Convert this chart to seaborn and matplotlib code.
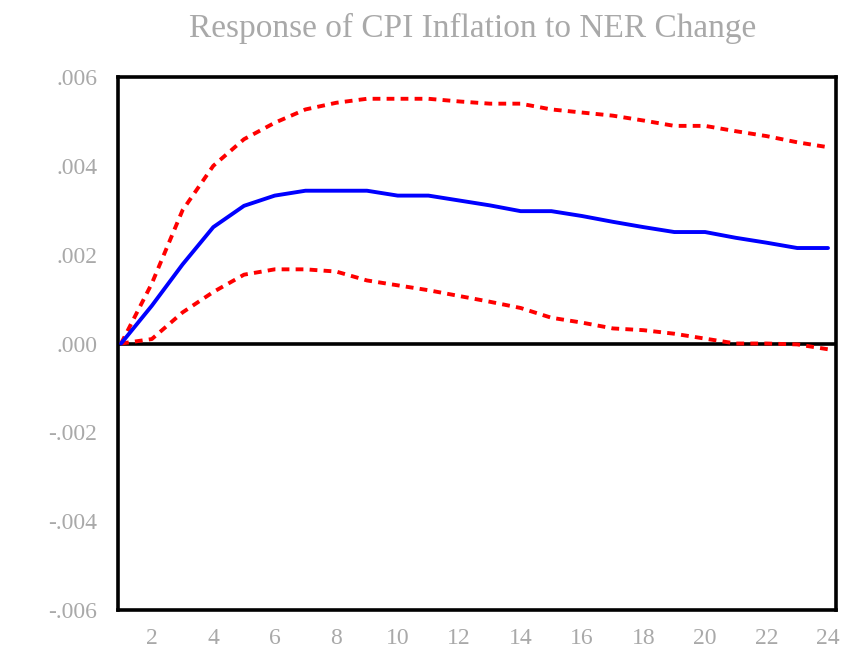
import numpy as np
import pandas as pd
import matplotlib
matplotlib.use("Agg")
import matplotlib.pyplot as plt
import seaborn as sns

# ---------------------------------------------------------------
# Datos: respuesta al impulso (periodos 1..24) con bandas +/- 2 s.e.
# ---------------------------------------------------------------
periodos = list(range(1, 25))
respuesta = [0.0, 0.00085, 0.00178, 0.00262, 0.00310, 0.00333, 0.00344, 0.00344,
             0.00344, 0.00333, 0.00333, 0.00322, 0.00311, 0.00298, 0.00298, 0.00287,
             0.00274, 0.00262, 0.00251, 0.00251, 0.00238, 0.00227, 0.00215, 0.00215]
banda_sup = [0.0, 0.00135, 0.00300, 0.00400, 0.00460, 0.00497, 0.00527, 0.00542,
             0.00551, 0.00551, 0.00551, 0.00545, 0.00540, 0.00540, 0.00527, 0.00520,
             0.00513, 0.00502, 0.00490, 0.00490, 0.00478, 0.00467, 0.00453, 0.00442]
banda_inf = [0.0, 0.00010, 0.00070, 0.00116, 0.00155, 0.00167, 0.00167, 0.00162,
             0.00142, 0.00131, 0.00120, 0.00107, 0.00094, 0.00080, 0.00058, 0.00047,
             0.00034, 0.00030, 0.00022, 0.00011, 0.00000, 0.00000, -0.00002, -0.00013]

y_ticks = [0.006, 0.004, 0.002, 0.0, -0.002, -0.004, -0.006]
y_labels = [".006", ".004", ".002", ".000", "-.002", "-.004", "-.006"]
x_labels = [str(p) if p % 2 == 0 else "" for p in periodos]

df = pd.DataFrame({"periodo": periodos, "resp": respuesta,
                   "sup": banda_sup, "inf": banda_inf})

sns.set_theme(style="white")
plt.rcParams['font.family'] = ['Liberation Serif', 'DejaVu Serif']

fig = plt.figure(figsize=(8.44, 6.56), dpi=100)
ax = fig.add_axes([0.1398, 0.0701, 0.8507, 0.8125])

ax.axhline(0, color="black", linewidth=2.6, zorder=1)
sns.lineplot(data=df, x="periodo", y="sup", ax=ax, color="#ff0000",
             linewidth=2.8, linestyle=(0, (2.0, 1.6)), zorder=3)
sns.lineplot(data=df, x="periodo", y="inf", ax=ax, color="#ff0000",
             linewidth=2.8, linestyle=(0, (2.0, 1.6)), zorder=3)
sns.lineplot(data=df, x="periodo", y="resp", ax=ax, color="#0000ff",
             linewidth=2.8, zorder=4)

ax.set_xlim(0.9, 24.26)
ax.set_ylim(-0.006, 0.006)
ax.set_xticks(periodos)
ax.set_xticklabels(x_labels)
ax.set_yticks(y_ticks)
ax.set_yticklabels(y_labels)
ax.set_xlabel("")
ax.set_ylabel("")

for s in ax.spines.values():
    s.set_color("black")
    s.set_linewidth(2.6)
ax.tick_params(axis="both", direction="out", color="black", width=2.4,
               labelcolor="#a9a9a9", labelsize=17)
ax.tick_params(axis="y", length=11, pad=4)
ax.tick_params(axis="x", length=9, pad=4)
ax.grid(False)

fig.text(0.56, 0.957, "Response of CPI Inflation to NER Change",
         ha="center", va="center", color="#a9a9a9", fontsize=24)

fig.savefig("out.png", dpi=100, facecolor="white")
